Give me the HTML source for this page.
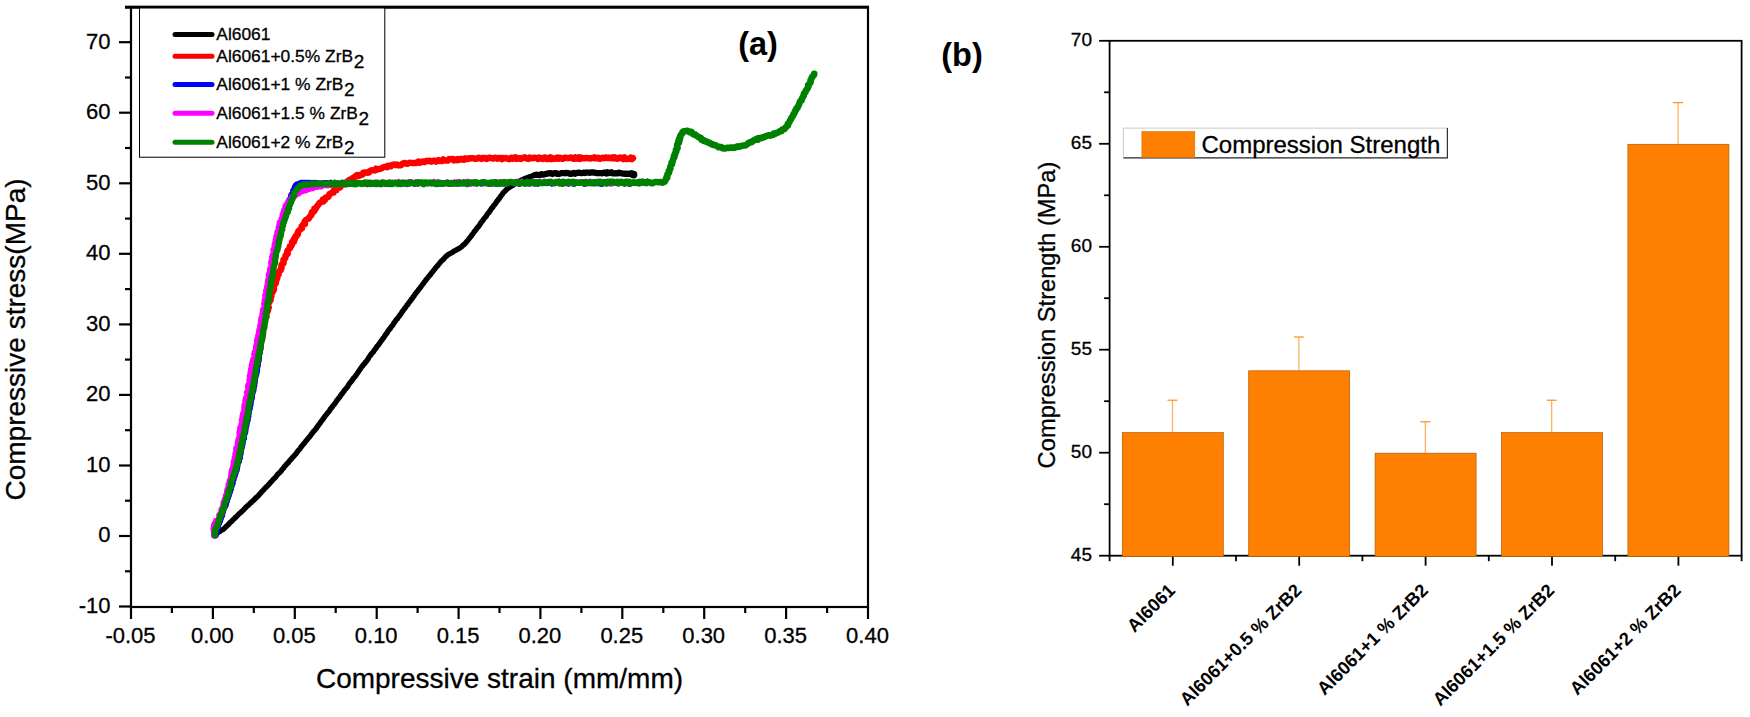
<!DOCTYPE html>
<html lang="en"><head><meta charset="utf-8"><title>Compressive stress-strain and compression strength</title>
<style>html,body{margin:0;padding:0;background:#fff;}body{width:1750px;height:717px;overflow:hidden;}svg{display:block;}text{font-family:"Liberation Sans", Arial, sans-serif;fill:#000;stroke:#000;stroke-width:0.3px;paint-order:stroke fill;}text.b,.b text{stroke:none;}</style></head><body>
<svg width="1750" height="717" viewBox="0 0 1750 717">
<rect x="0" y="0" width="1750" height="717" fill="#fff"/>
<g id="curves-a">
<polyline points="215.0,534.5 216.0,533.8 217.0,533.1 218.1,532.6 219.0,531.8 220.1,531.3 221.1,530.6 222.1,529.9 223.2,529.3 224.1,528.6 225.0,527.8 225.8,526.9 226.7,526.0 227.6,525.2 228.6,524.4 229.3,523.4 230.1,522.5 231.1,521.8 232.1,521.0 232.8,520.0 233.7,519.1 234.7,518.5 235.3,517.4 236.4,516.8 237.1,515.8 238.0,514.9 238.9,514.1 239.8,513.3 240.8,512.6 241.5,511.6 242.5,510.8 243.4,510.0 244.2,509.1 245.1,508.3 245.9,507.4 246.7,506.5 247.6,505.7 248.6,505.0 249.4,504.1 250.3,503.2 251.2,502.5 252.1,501.6 252.9,500.7 253.9,500.0 254.7,499.2 255.5,498.2 256.4,497.5 257.3,496.6 258.3,495.8 259.1,494.8 259.9,493.7 260.9,493.0 261.6,491.8 262.5,491.0 263.5,490.1 264.2,489.0 265.2,488.2 266.0,487.1 267.0,486.3 267.9,485.4 268.7,484.5 269.7,483.6 270.4,482.5 271.3,481.7 272.1,480.8 273.0,479.8 273.8,478.9 274.7,478.1 275.6,477.2 276.3,476.1 277.2,475.2 277.8,474.2 278.8,473.4 279.7,472.5 280.6,471.6 281.4,470.7 282.0,469.6 282.8,468.7 283.7,467.9 284.3,466.8 285.2,466.0 285.9,465.0 286.7,464.1 287.5,463.2 288.5,462.5 289.1,461.4 289.9,460.5 290.7,459.6 291.6,458.8 292.2,457.7 293.1,456.9 293.9,456.0 294.8,455.1 295.6,454.1 296.4,453.2 297.0,452.1 297.8,451.1 298.6,450.2 299.5,449.3 300.3,448.4 300.9,447.2 301.7,446.2 302.5,445.3 303.3,444.3 304.1,443.4 304.9,442.5 305.6,441.4 306.4,440.4 307.3,439.5 308.0,438.5 308.9,437.5 309.8,436.6 310.5,435.5 311.2,434.5 312.0,433.5 312.8,432.5 313.5,431.4 314.5,430.6 315.2,429.6 316.1,428.6 316.8,427.6 317.5,426.5 318.3,425.5 319.0,424.4 319.9,423.5 320.5,422.4 321.2,421.4 322.0,420.5 322.7,419.5 323.5,418.5 324.2,417.4 324.9,416.4 325.7,415.5 326.4,414.5 327.2,413.5 327.9,412.5 328.8,411.7 329.5,410.6 330.1,409.5 330.9,408.5 331.7,407.6 332.4,406.6 333.1,405.6 334.0,404.7 334.8,403.8 335.4,402.7 336.1,401.7 336.7,400.6 337.5,399.7 338.3,398.7 339.0,397.7 339.9,396.9 340.4,395.7 341.1,394.7 342.1,393.9 342.7,392.9 343.4,391.8 344.2,390.9 344.8,389.8 345.7,388.9 346.6,388.0 347.3,387.0 348.0,385.9 348.6,384.8 349.3,383.9 350.0,382.8 350.9,382.0 351.6,380.9 352.4,380.0 353.0,378.9 353.8,377.8 354.7,377.0 355.5,376.0 356.2,375.0 356.9,374.0 357.6,373.0 358.3,372.0 358.9,370.9 359.7,369.9 360.4,368.9 361.1,367.8 361.8,366.8 362.6,365.9 363.3,364.9 364.2,364.0 365.0,363.1 365.6,362.0 366.5,361.1 367.2,360.1 368.0,359.1 368.5,358.0 369.2,356.9 370.0,355.9 370.7,354.9 371.4,353.9 372.3,353.0 373.1,352.1 373.8,351.1 374.5,350.0 375.3,349.0 376.1,348.1 376.6,346.9 377.5,346.0 378.3,345.1 379.0,344.1 379.7,343.1 380.4,342.0 381.1,340.9 382.0,340.1 382.6,338.9 383.5,338.0 384.2,337.0 384.8,335.8 385.6,334.8 386.4,333.8 387.1,332.7 387.7,331.6 388.4,330.5 389.2,329.5 390.1,328.6 390.8,327.6 391.3,326.5 392.2,325.7 393.0,324.7 393.6,323.7 394.2,322.6 395.0,321.7 395.6,320.6 396.3,319.7 397.3,318.9 397.9,317.8 398.6,316.8 399.4,316.0 400.0,314.9 400.8,314.0 401.5,313.0 402.1,311.9 402.8,311.0 403.5,310.0 404.2,309.0 405.0,308.1 405.6,307.1 406.4,306.1 407.0,305.1 408.0,304.3 408.5,303.2 409.3,302.3 410.0,301.3 410.8,300.4 411.4,299.3 412.3,298.5 412.9,297.4 413.6,296.4 414.3,295.5 414.9,294.4 415.7,293.5 416.4,292.5 417.1,291.5 418.0,290.7 418.6,289.6 419.4,288.7 420.2,287.8 420.9,286.7 421.6,285.7 422.4,284.8 423.1,283.8 423.9,282.9 424.4,281.8 425.3,280.9 426.0,279.9 426.7,278.9 427.6,278.1 428.3,277.0 429.1,276.1 429.9,275.2 430.7,274.2 431.4,273.1 432.2,272.2 433.0,271.2 433.8,270.3 434.6,269.3 435.3,268.3 436.1,267.4 436.9,266.4 437.8,265.5 438.5,264.5 439.3,263.6 440.1,262.6 440.9,261.5 441.9,260.7 442.9,259.9 443.8,258.9 444.6,257.8 445.5,256.9 446.5,256.1 447.4,255.1 448.5,254.5 449.6,253.7 450.8,253.3 451.9,252.6 453.0,252.0 453.9,251.1 455.1,250.7 456.2,250.1 457.2,249.3 458.4,248.9 459.5,248.3 460.4,247.5 461.5,246.9 462.3,245.9 463.2,245.1 464.3,244.4 465.2,243.5 465.9,242.5 466.9,241.5 467.8,240.4 468.7,239.2 469.5,238.1 470.4,237.0 471.3,236.0 471.9,234.8 472.8,233.9 473.6,232.9 474.2,231.7 475.1,230.8 475.9,229.8 476.7,228.8 477.3,227.6 478.3,226.8 479.0,225.7 479.9,224.7 480.4,223.5 481.2,222.5 481.9,221.5 482.8,220.6 483.4,219.5 484.1,218.5 485.0,217.5 485.9,216.6 486.6,215.6 487.2,214.4 487.9,213.4 488.9,212.6 489.5,211.5 490.3,210.5 490.9,209.4 491.6,208.3 492.6,207.5 493.2,206.4 493.9,205.3 494.9,204.5 495.5,203.4 496.3,202.4 496.9,201.2 497.9,200.4 498.4,199.2 499.4,198.4 500.0,197.3 500.7,196.2 501.5,195.2 502.4,194.3 502.9,193.1 503.9,192.1 505.0,191.2 505.9,190.1 506.9,189.1 507.9,188.4 508.9,187.7 509.9,187.0 511.0,186.3 512.2,185.6 513.4,185.0 514.6,184.1 515.8,183.4 516.9,182.5 518.1,182.0 519.2,181.2 520.4,180.7 521.5,180.0 522.8,179.7 523.9,179.0 525.0,178.3 526.2,178.0 527.6,177.7 528.7,177.0 530.0,176.8 531.2,176.3 532.5,175.8 533.8,175.5 535.0,175.0" fill="none" stroke="#000" stroke-width="5.4" stroke-linejoin="round" stroke-linecap="round" />
<polyline points="535.0,175.0 536.2,174.7 537.5,174.8 538.8,174.9 540.1,175.2 541.2,174.2 542.5,174.7 543.8,174.4 545.0,174.2 546.2,173.8 547.5,173.7 548.7,173.2 550.0,173.3 551.2,173.1 552.5,174.0 553.7,173.3 555.0,173.1 556.2,173.0 557.5,174.0 558.8,174.0 560.0,173.6 561.2,173.1 562.5,173.0 563.7,173.1 565.0,173.3 566.2,172.8 567.5,173.2 568.7,173.0 570.0,173.9 571.3,173.9 572.5,173.3 573.7,172.9 575.0,173.9 576.2,172.9 577.5,173.0 578.7,172.5 580.0,173.0 581.2,173.1 582.5,173.1 583.7,172.7 585.0,173.1 586.2,172.4 587.5,172.7 588.7,172.5 590.0,172.9 591.2,172.4 592.5,172.3 593.7,172.7 595.0,172.6 596.3,173.1 597.5,173.0 598.8,173.3 600.0,173.1 601.3,173.2 602.5,173.4 603.7,172.7 605.0,172.6 606.3,173.5 607.5,172.3 608.8,173.1 610.0,173.0 611.3,172.2 612.5,173.4 613.7,173.5 615.0,173.2 616.2,173.3 617.5,173.5 618.8,172.6 620.0,173.2 621.2,173.2 622.5,173.7 623.7,173.7 625.0,173.8 626.2,173.5 627.5,174.0 628.7,173.7 630.0,173.8 631.3,173.2 632.5,173.6" fill="none" stroke="#000" stroke-width="6.2" stroke-linejoin="round" stroke-linecap="round" />
<circle cx="633.5" cy="174.6" r="3.9" fill="#000"/>
<polyline points="215.8,535.8 215.0,533.6 215.5,532.3 216.1,531.2 216.4,530.0 217.3,528.9 217.6,527.7 218.1,526.5 218.5,525.3 219.0,524.1 219.3,522.9 219.4,521.6 220.3,520.6 220.7,519.4 220.9,518.2 221.4,517.0 221.9,515.9 221.9,514.6 222.7,513.5 222.9,512.2 223.2,511.0 223.7,509.9 224.3,508.9 224.4,507.6 225.1,506.6 225.7,505.5 225.8,504.2 226.1,503.1 226.6,502.0 227.1,500.9 227.6,499.7 227.9,498.6 228.3,497.4 228.3,496.1 228.7,494.9 229.2,493.7 229.8,492.5 229.9,491.2 230.5,490.0 230.5,488.7 230.9,487.5 231.4,486.3 232.0,485.1 232.4,483.9 232.7,482.7 232.9,481.4 233.4,480.2 233.7,479.0 234.1,477.8 234.3,476.5 235.1,475.4 235.1,474.1 235.9,473.0 236.2,471.7 236.0,470.4 236.7,469.2 237.2,468.0 237.7,466.8 237.7,465.5 238.0,464.3 238.3,463.0 239.1,461.9 239.0,460.6 239.5,459.4 239.5,458.1 240.0,457.0 240.5,455.8 240.2,454.5 240.9,453.4 241.0,452.1 241.4,450.9 241.6,449.7 241.5,448.4 242.2,447.3 242.2,446.0 242.2,444.8 242.4,443.5 242.9,442.4 243.2,441.2 243.3,440.0 243.5,438.8 243.8,437.6 244.1,436.4 244.6,435.2 244.4,433.9 245.1,432.8 245.4,431.6 245.2,430.4 245.9,429.3 246.0,428.0 246.4,426.8 246.3,425.6 246.6,424.3 246.8,423.1 247.4,421.9 247.4,420.6 247.5,419.3 247.8,418.1 247.9,416.8 248.0,415.5 248.3,414.3 249.0,413.1 248.9,411.8 249.5,410.6 249.3,409.3 249.6,408.1 250.0,406.9 250.0,405.6 250.4,404.3 251.0,403.2 251.2,401.9 251.4,400.6 251.5,399.4 251.9,398.1 252.2,396.9 252.2,395.6 252.6,394.4 252.4,393.0 253.1,391.9 253.2,390.6 253.6,389.4 253.7,388.1 253.8,386.8 253.9,385.6 254.6,384.4 254.4,383.1 254.8,381.8 255.0,380.6 255.2,379.3 255.7,378.1 256.0,376.9 255.8,375.6 256.3,374.4 256.3,373.1 256.7,371.9 256.8,370.6 256.9,369.3 257.1,368.1 257.4,366.9 258.0,365.8 258.0,364.5 258.0,363.3 258.6,362.1 258.9,360.9 258.8,359.6 258.8,358.4 259.1,357.2 259.2,356.0 259.6,354.8 259.7,353.5 260.0,352.3 260.2,351.1 260.6,349.9 261.0,348.7 261.1,347.5 261.1,346.3 261.4,345.1 261.6,343.8 261.8,342.6 262.0,341.4 262.0,340.1 262.4,339.0 263.0,337.8 262.7,336.5 263.1,335.3 263.4,334.1 263.8,332.9 263.6,331.7 263.8,330.4 264.1,329.2 264.3,328.0 264.5,326.7 264.9,325.5 265.0,324.3 265.1,323.0 264.8,321.7 264.9,320.5 265.5,319.3 265.5,318.0" fill="none" stroke="#ff0000" stroke-width="5.2" stroke-linejoin="round" stroke-linecap="round" />
<polyline points="265.5,318.0 266.5,317.0 266.0,315.6 266.5,314.5 265.7,313.1 266.7,312.0 267.9,311.1 268.0,309.9 268.3,308.7 268.8,307.6 267.8,306.1 267.8,304.8 268.2,303.6 269.2,302.5 269.8,301.3 270.6,300.2 270.6,298.9 270.8,297.6 271.4,296.4 271.2,295.0 271.7,293.9 271.3,292.5 272.9,291.8 272.4,290.3 274.0,289.6 273.9,288.3 273.7,286.9 273.8,285.7 274.4,284.6 275.5,283.7 276.0,282.6 275.4,281.1 275.7,280.0 276.9,279.1 277.4,278.0 277.4,276.8 277.5,275.5 278.6,274.6 278.0,273.1 278.9,272.2 279.5,271.1 280.8,270.3 280.7,269.0 281.6,268.0 281.3,266.6 281.4,265.4 281.9,264.2 283.5,263.6 283.6,262.3 283.4,260.9 283.4,259.6 284.6,258.8 285.4,257.9 285.4,256.6 285.6,255.3 286.8,254.6 287.8,253.7 287.2,252.0 287.4,250.8 288.4,250.0 289.1,248.9 290.1,248.1 289.8,246.6 291.4,246.0 291.8,244.9 292.0,243.6 292.0,242.2 293.8,241.9 293.4,240.2 294.8,239.6 294.5,238.1 295.1,237.0 296.5,236.4 296.4,235.0 298.0,234.5 297.9,233.0 298.0,231.7 298.8,230.7 299.8,229.8 300.9,229.0 302.1,228.2 301.6,226.4 302.7,225.6 303.1,224.3 305.0,224.0 304.5,222.1 305.1,221.0 305.9,219.9 307.1,219.2 308.6,218.7 309.3,217.6 309.8,216.4 311.0,215.6 311.6,214.5 311.6,212.8 312.2,211.7 314.0,211.6 314.6,210.4 314.4,208.6 316.1,208.4 316.5,207.1 317.3,206.1 318.1,205.1 318.8,204.1 319.4,203.0 320.6,202.4 321.6,201.6 323.2,201.5 323.0,199.5 325.0,199.9 325.0,198.0 326.1,197.4 327.6,197.3 328.5,196.5 329.0,195.2 329.5,193.9 331.0,193.6 331.9,192.7 333.5,192.6 333.6,190.7 334.8,190.1 336.4,190.1 336.6,188.1 338.1,187.9 339.6,187.7 340.6,186.9 340.9,185.1 342.0,184.3 343.0,183.7 344.9,184.2 345.2,182.5 346.8,182.6 347.9,182.1 348.3,180.6 349.4,179.8 351.1,180.2 351.9,179.1 352.6,177.9 354.1,178.0 354.8,176.7 356.0,176.1 357.0,175.1 358.8,175.8 360.1,175.5 361.1,174.5 362.6,174.6 363.3,172.6 364.7,172.5 366.2,172.4 367.8,172.8 369.0,172.4 369.8,171.0 371.0,170.4 372.3,170.3 373.5,170.0 375.0,170.4 376.0,168.7 377.5,169.5 378.8,169.0 380.1,168.8 381.3,168.5 382.4,167.9 383.5,167.2 384.7,166.9 385.9,166.7 387.3,167.2 388.2,165.7 389.5,165.6 390.9,166.3 391.9,165.2 393.2,164.6 394.5,164.4 395.9,165.1 397.2,164.5 398.6,165.5 399.9,165.2 401.2,165.2 402.3,163.7 403.6,163.2 404.9,163.0 406.2,163.6 407.4,163.8 408.6,163.2 409.7,162.7 411.0,162.9 412.2,163.1 413.4,163.0 414.7,163.0 415.9,163.1 417.0,162.6 418.2,161.5 419.6,162.7 420.9,161.6 422.2,162.0 423.5,161.5 424.8,162.1 426.1,161.0 427.4,161.0 428.7,160.9 429.9,160.6 431.3,161.8 432.4,161.2 433.6,160.6 434.8,160.6 436.1,161.6 437.2,160.6 438.4,160.0 439.6,161.0 440.8,160.6 442.1,161.1 443.2,159.4 444.4,160.0 445.6,160.6 446.8,160.5 448.0,160.6 449.2,159.0 450.4,159.3 451.6,159.0 452.8,159.0 454.0,160.4 455.2,159.6 456.5,160.2 457.7,159.1 459.0,159.9 460.1,159.1 461.4,158.7 462.6,159.6 463.9,159.9 465.0,158.3 466.3,159.1 467.5,159.1 468.7,158.3 470.0,158.6 471.2,158.1 472.5,158.2 473.7,158.3 475.0,158.9 476.3,158.9 477.5,158.1 478.7,157.7 480.0,158.3 481.3,158.9 482.5,158.0 483.7,158.2 485.0,158.0 486.3,159.0 487.5,158.5 488.7,157.6 490.0,157.7 491.2,158.2 492.4,158.5 493.6,158.6 494.8,157.6 496.0,157.8 497.2,158.7 498.4,158.2 499.6,157.9 500.8,158.0 502.0,159.1 503.2,158.0 504.4,158.4 505.6,158.0 506.8,158.1 508.0,158.9 509.2,159.2 510.4,158.0 511.6,157.7 512.8,158.7 514.0,157.7 515.2,157.3 516.4,158.9 517.6,158.1 518.8,158.8 520.0,158.0 521.2,158.9 522.4,158.1 523.6,157.6 524.8,157.3 526.0,158.3 527.2,158.5 528.4,158.9 529.6,157.5 530.8,158.4 532.0,158.0 533.2,158.2 534.4,157.6 535.6,157.8 536.8,158.2 538.0,159.0 539.2,157.5 540.4,158.2 541.6,158.7 542.8,159.0 544.0,157.7 545.2,157.5 546.4,159.0 547.6,159.1 548.8,158.2 550.0,157.4 551.2,159.0 552.4,158.0 553.6,158.9 554.8,158.4 556.0,158.8 557.2,157.6 558.4,158.7 559.6,157.7 560.8,158.0 562.0,158.8 563.2,158.8 564.4,157.6 565.6,157.7 566.8,158.0 568.0,158.2 569.2,158.0 570.4,157.5 571.6,157.7 572.8,158.6 574.0,158.9 575.2,157.4 576.4,158.3 577.6,158.7 578.8,157.4 580.0,158.8 581.2,157.5 582.4,158.4 583.6,158.3 584.8,158.4 586.0,157.9 587.2,158.1 588.4,158.3 589.6,158.1 590.8,158.5 592.0,158.1 593.2,158.1 594.5,157.3 595.7,158.4 596.9,158.2 598.1,157.7 599.3,158.7 600.5,158.7 601.7,158.1 602.9,157.6 604.1,158.2 605.3,157.5 606.5,157.5 607.7,158.1 608.9,157.5 610.1,158.1 611.3,158.2 612.5,157.4 613.7,158.4 614.9,157.4 616.1,158.6 617.3,158.7 618.5,158.2 619.8,157.4 621.0,158.2 622.2,158.0 623.4,159.0 624.6,157.5 625.8,158.8 627.0,159.1 628.2,158.6 629.4,158.8 630.6,157.6 631.8,159.1 633.0,158.2" fill="none" stroke="#ff0000" stroke-width="6.4" stroke-linejoin="round" stroke-linecap="round" stroke-linecap="butt"/>
<polyline points="215.6,535.2 215.1,533.0 216.0,532.0 216.4,530.8 216.1,529.3 217.2,528.4 217.8,527.2 217.4,525.7 218.1,524.6 218.9,523.6 218.8,522.2 219.9,521.3 219.7,519.9 220.6,518.9 220.4,517.5 221.2,516.4 222.0,515.4 221.7,514.0 222.2,512.8 222.8,511.7 223.0,510.4 223.2,509.2 223.7,508.1 224.1,507.0 225.2,506.1 225.4,504.9 226.0,503.8 225.7,502.4 226.7,501.5 226.4,500.1 227.2,499.1 227.7,498.0 227.9,496.8 228.7,495.7 228.8,494.4 229.2,493.1 229.8,492.0 229.5,490.5 230.7,489.6 230.7,488.2 230.9,486.9 231.6,485.8 231.5,484.4 232.5,483.4 232.5,482.1 232.7,480.8 233.4,479.7 233.5,478.4 233.6,477.1 234.5,476.0 234.2,474.6 235.3,473.6 235.2,472.2 235.9,471.1 236.6,470.0 236.6,468.6 237.0,467.4 237.0,466.1 237.1,464.8 237.5,463.6 237.9,462.4 238.8,461.3 238.9,460.0 239.3,458.8 239.9,457.7 239.4,456.3 239.7,455.1 240.4,454.0 240.0,452.6 240.3,451.4 240.9,450.3 240.9,449.0 241.4,447.8 241.5,446.6 242.1,445.4 242.3,444.2 242.2,442.9 242.9,441.8 243.0,440.6 242.9,439.3 243.9,438.3 243.5,436.9 243.6,435.7 243.8,434.5 244.6,433.4 245.1,432.3 245.2,431.1 245.1,429.8 245.2,428.6 245.2,427.3 246.1,426.2 246.3,425.0 246.3,423.7 246.8,422.5 246.9,421.2 247.6,420.1 247.6,418.8 247.4,417.5 248.3,416.3 247.7,414.9 248.4,413.8 248.5,412.5 248.6,411.2 248.6,409.9 249.6,408.8 249.0,407.4 249.8,406.3 250.4,405.1 249.9,403.7 250.2,402.4 250.9,401.3 251.0,400.0 251.4,398.8 251.8,397.6 251.4,396.2 251.8,395.0 252.1,393.7 252.1,392.4 253.1,391.3 253.3,390.1 253.4,388.8 253.0,387.4 254.0,386.3 254.2,385.0 254.1,383.7 254.6,382.5 254.6,381.2 254.6,380.0 254.7,378.7 255.0,377.5 255.1,376.2 255.6,375.0 256.3,373.8 256.4,372.5 256.8,371.3 256.9,370.0 256.6,368.8 257.1,367.6 257.2,366.4 257.7,365.2 257.6,364.0 257.5,362.8 258.0,361.6 258.5,360.5 258.0,359.2 258.8,358.1 258.1,356.7 258.5,355.6 258.7,354.4 259.4,353.3 259.7,352.1 259.7,350.9 259.5,349.6 260.2,348.5 259.8,347.2 259.9,346.0 260.7,344.9 260.6,343.7 260.8,342.5 261.0,341.3 261.5,340.1 261.1,338.8 261.7,337.7 261.7,336.5 262.0,335.3 261.8,334.0 262.3,332.9 262.3,331.7 262.2,330.4 262.3,329.2 262.9,328.1 262.5,326.8 263.5,325.7 262.9,324.3 263.0,323.1 263.3,321.9 264.3,320.8 263.9,319.5 263.9,318.3 264.0,317.1 264.2,315.8 265.0,314.7 265.1,313.5 265.4,312.3 265.6,311.1 265.1,309.8 265.8,308.7 265.8,307.4 266.4,306.3 266.6,305.1 266.9,303.9 266.3,302.5 267.3,301.5 267.5,300.3 267.7,299.1 267.1,297.7 267.4,296.6 267.5,295.3 267.6,294.1 268.6,293.1 268.8,291.9 268.8,290.6 269.2,289.5 269.2,288.2 269.1,287.0 269.1,285.7 269.3,284.5 270.2,283.4 269.8,282.2 270.1,281.0 270.4,279.8 270.2,278.5 270.7,277.4 270.9,276.2 271.5,275.0 271.4,273.8 271.6,272.6 272.4,271.5 272.2,270.2 272.7,269.1 272.7,267.8 272.4,266.5 273.0,265.4 273.2,264.2 273.7,263.1 273.5,261.8 274.1,260.7 274.2,259.5 274.1,258.2 274.9,257.1 274.4,255.8 275.3,254.7 274.9,253.4 274.9,252.2 275.4,251.0 276.1,249.9 276.6,248.8 275.8,247.4 276.6,246.3 276.9,245.1 277.5,244.0 277.2,242.7 277.8,241.5 277.9,240.3 278.7,239.2 278.4,237.9 279.4,236.9 279.1,235.5 279.3,234.3 280.1,233.3 280.2,232.0 280.1,230.7 280.9,229.7 280.7,228.4 281.6,227.3 281.8,226.1 282.2,225.0 282.4,223.7 282.4,222.5 282.9,221.3 283.3,220.1 284.2,219.1 283.8,217.7 285.0,216.8 284.6,215.3 285.2,214.2 285.7,213.1 286.7,212.1 286.7,210.8 287.0,209.6 287.9,208.6 287.7,207.2 288.3,206.2 288.8,205.0 287.5,205.7 288.2,204.9 288.5,203.8 288.7,202.5 289.1,201.3 289.4,200.1 290.5,199.2 290.8,198.0 291.3,196.9 291.2,195.5 291.9,194.5 292.8,193.4 293.1,192.1 293.2,190.8 294.0,189.7 294.8,188.7 294.9,187.2 295.6,186.0 296.4,184.9 298.1,184.4 299.6,183.7 300.9,183.0 302.2,183.0 303.6,183.0 305.0,183.0 306.2,183.2 307.5,182.9 308.8,183.1 310.0,183.0 311.2,183.8 312.5,183.5 313.8,182.9 315.0,183.8 316.3,183.0 317.5,183.3 318.7,183.9 320.0,183.7 321.2,183.7 322.5,183.4 323.8,183.2 325.0,183.7 326.3,183.1 327.5,183.3 328.8,183.5 330.0,183.6" fill="none" stroke="#0000ff" stroke-width="6.4" stroke-linejoin="round" stroke-linecap="round" />
<polyline points="330.0,183.4 330.9,181.8 331.8,183.1 332.7,184.4 333.6,184.1 334.5,183.4 335.4,183.8 336.3,183.3 337.2,182.2 338.1,183.7 339.1,183.1 340.0,184.2 340.9,184.8 341.8,183.2 342.7,183.6 343.6,184.2 344.5,183.1 345.4,182.5 346.3,184.1 347.2,184.7 348.1,184.3 349.0,184.1 349.9,184.6 350.8,184.0 351.7,183.9 352.6,183.2 353.5,182.7 354.4,183.8 355.3,182.0 356.2,183.1 357.2,184.3 358.1,184.1 359.0,183.8 359.9,182.5 360.8,183.1 361.7,183.2 362.6,183.8 363.5,183.1 364.4,184.0 365.3,184.8 366.2,182.3 367.1,183.9 368.0,184.3 368.9,183.0 369.8,183.3 370.7,185.0 371.6,181.8 372.5,183.5 373.4,182.2 374.4,184.3 375.3,184.9 376.2,183.4 377.1,182.0 378.0,183.6 378.9,183.5 379.8,184.1 380.7,183.4 381.6,183.8 382.5,184.5 383.4,183.4 384.3,183.1 385.2,184.9 386.1,182.4 387.0,184.0 387.9,183.0 388.8,184.2 389.7,182.1 390.6,185.0 391.5,182.9 392.5,181.8 393.4,182.6 394.3,183.0 395.2,181.7 396.1,183.1 397.0,183.1 397.9,184.0 398.8,182.8 399.7,182.5 400.6,182.4 401.5,184.2 402.4,184.8 403.3,183.4 404.2,182.4 405.1,184.4 406.0,183.0 406.9,182.4 407.8,182.1 408.7,184.3 409.7,184.4 410.6,183.8 411.5,183.2 412.4,183.5 413.3,182.4 414.2,184.9 415.1,182.8 416.0,183.8 416.9,184.4 417.8,184.4 418.7,183.2 419.6,182.6 420.5,183.5 421.4,182.1 422.3,184.5 423.2,182.8 424.1,184.5 425.0,182.5 425.9,182.9 426.8,182.5 427.8,183.1 428.7,182.3 429.6,181.6 430.5,184.1 431.4,182.6 432.3,182.5 433.2,182.6 434.1,183.2 435.0,183.1 435.9,183.8 436.8,183.9 437.7,182.8 438.6,184.8 439.5,184.5 440.4,181.8 441.3,184.4 442.2,184.7 443.1,184.3 444.0,182.1 444.9,184.4 445.9,183.8 446.8,181.7 447.7,181.6 448.6,184.8 449.5,183.8 450.4,182.5 451.3,181.9 452.2,182.1 453.1,182.4 454.0,184.2 454.9,182.8 455.8,182.1 456.7,184.7 457.6,184.3 458.5,182.2 459.4,184.6 460.3,183.7 461.2,184.2 462.2,183.9 463.1,184.6 464.0,184.3 464.9,184.4 465.8,182.3 466.7,183.9 467.6,183.4 468.5,184.1 469.4,183.1 470.3,184.6 471.2,183.5 472.1,182.5 473.0,182.4 473.9,182.1 474.8,183.3 475.7,181.8 476.6,183.2 477.6,182.1 478.5,183.2 479.4,183.3 480.3,183.4 481.2,184.5 482.1,181.6 483.0,184.4 483.9,183.2 484.8,183.5 485.7,183.8 486.6,184.4 487.5,182.8 488.4,183.0 489.3,184.8 490.2,181.8 491.1,183.7 492.1,183.7 493.0,181.7 493.9,183.6 494.8,183.9 495.7,184.7 496.6,182.7 497.5,184.9 498.4,183.3 499.3,183.2 500.2,184.6 501.1,181.7 502.0,184.0 502.9,183.7 503.8,182.7 504.7,184.5 505.6,182.8 506.5,183.2 507.5,183.3 508.4,184.2 509.3,182.3 510.2,183.0 511.1,183.0 512.0,183.4 512.9,184.4 513.8,182.5 514.7,184.4 515.6,182.9 516.5,183.3 517.4,182.5 518.3,183.3 519.2,184.9 520.1,183.8 521.0,184.2 521.9,182.7 522.9,182.6 523.8,182.6 524.7,183.5 525.6,183.7 526.5,184.2 527.4,181.7 528.3,184.0 529.2,184.5 530.1,183.4 531.0,181.7 531.9,182.5 532.8,181.5 533.7,182.2 534.6,184.7 535.5,183.6 536.4,183.8 537.4,184.2 538.3,184.6 539.2,183.6 540.1,183.6 541.0,183.6 541.9,183.9 542.8,183.5 543.7,183.8 544.6,182.2 545.5,183.8 546.4,183.1 547.3,184.1 548.2,181.9 549.1,182.1 550.0,181.6 550.9,184.1 551.8,184.6 552.8,183.7 553.7,182.8 554.6,184.3 555.5,184.2 556.4,183.4 557.3,182.4 558.2,182.5 559.1,182.9 560.0,182.6 560.9,183.0 561.8,183.7 562.7,184.7 563.6,181.7 564.5,183.4 565.4,181.6 566.3,181.9 567.2,184.3 568.1,183.5 569.0,184.6 569.9,183.0 570.8,181.5 571.7,182.8 572.6,183.5 573.5,184.7 574.4,184.8 575.3,183.1 576.2,182.9 577.1,181.8 578.0,183.7 578.9,182.2 579.8,182.0 580.7,181.6 581.6,181.5 582.5,183.8 583.4,181.9 584.3,184.8 585.2,181.8 586.1,184.5 587.0,181.9 587.9,181.6 588.8,183.9 589.7,182.3 590.6,184.0 591.5,182.1 592.4,181.7 593.3,184.1 594.2,183.9 595.1,184.4 596.0,184.0 597.0,181.8 597.9,183.6 598.8,183.9 599.7,183.1 600.6,184.7 601.5,182.4 602.4,184.8 603.3,183.9 604.2,181.5 605.1,181.6 606.0,183.7 606.9,184.3 607.8,181.8 608.7,182.6 609.6,184.0 610.5,182.1 611.4,184.4 612.3,183.2 613.2,181.7 614.1,182.7 615.0,183.5 615.9,183.0 616.8,183.8 617.7,182.0 618.6,184.2 619.5,182.7 620.4,183.7 621.3,183.6 622.2,182.9 623.1,182.8 624.0,184.2 624.9,184.7 625.8,184.2 626.7,183.4 627.6,182.5 628.5,181.7 629.4,184.8 630.3,183.9 631.2,184.3 632.1,182.6 633.0,183.2" fill="none" stroke="#0000ff" stroke-width="4.2" stroke-linejoin="round" stroke-linecap="round" />
<polyline points="214.2,535.6 214.1,534.1 214.4,532.5 214.0,531.0 213.8,529.8 213.6,528.6 213.9,527.4 214.5,526.2 214.1,525.0 214.9,524.0 215.3,522.8 216.1,521.8 216.2,520.9 217.1,521.4 217.5,521.9 217.7,521.2 218.3,520.1 218.9,518.9 219.5,517.8 220.0,516.6 219.4,515.1 220.7,514.2 221.1,513.0 221.5,511.8 221.6,510.5 221.6,509.3 222.7,508.3 223.0,507.2 223.2,506.0 223.8,504.9 223.6,503.6 223.7,502.4 224.6,501.4 225.2,500.3 224.9,499.0 225.9,498.0 226.5,496.9 226.0,495.5 226.8,494.4 227.2,493.2 227.2,491.9 227.3,490.6 227.6,489.3 228.5,488.3 228.9,487.0 228.8,485.7 228.7,484.4 229.8,483.4 230.1,482.1 229.7,480.8 230.4,479.6 231.1,478.5 231.3,477.3 231.2,476.0 231.4,474.7 231.8,473.5 231.6,472.2 231.9,471.0 232.2,469.8 233.1,468.7 233.0,467.3 233.5,466.2 233.6,464.9 234.0,463.7 233.8,462.4 234.0,461.1 235.4,460.1 234.9,458.8 234.8,457.5 235.6,456.4 236.1,455.2 235.5,453.9 236.3,452.7 236.2,451.5 236.7,450.3 236.3,449.0 236.5,447.8 237.9,446.8 238.0,445.5 237.8,444.2 238.1,443.0 238.0,441.7 238.8,440.7 238.6,439.4 239.5,438.3 239.5,437.1 239.8,435.9 240.2,434.7 239.6,433.3 239.6,432.1 240.0,430.9 240.2,429.7 240.3,428.5 240.5,427.3 241.3,426.2 241.9,425.1 241.7,423.7 242.5,422.6 242.6,421.3 241.9,419.9 242.7,418.8 242.7,417.5 242.6,416.2 243.8,415.1 243.2,413.7 243.8,412.5 244.1,411.3 244.7,410.1 244.5,408.8 244.4,407.5 244.7,406.2 244.6,404.9 245.8,403.9 246.1,402.6 245.4,401.2 245.5,399.9 246.0,398.7 246.3,397.5 247.2,396.3 247.5,395.1 247.6,393.8 247.0,392.4 248.1,391.3 248.2,390.0 248.4,388.8 249.0,387.6 248.1,386.2 248.5,384.9 249.4,383.8 249.8,382.6 249.7,381.3 249.5,380.0 250.1,378.8 250.5,377.6 249.9,376.2 250.4,375.0 250.6,373.7 250.6,372.4 251.3,371.2 251.1,369.9 251.4,368.7 251.6,367.5 252.5,366.4 251.9,365.1 253.0,364.1 252.6,362.7 252.7,361.5 254.0,360.5 253.4,359.1 254.5,358.1 254.7,356.9 255.0,355.7 254.3,354.3 254.9,353.2 254.8,351.9 256.0,350.9 256.2,349.7 256.2,348.5 256.2,347.2 256.3,346.0 257.1,344.9 257.0,343.6 257.4,342.5 257.1,341.1 257.4,340.0 257.5,338.7 258.5,337.7 258.6,336.5 258.3,335.2 259.4,334.1 259.0,332.8 259.4,331.6 259.3,330.4 259.7,329.2 260.6,328.1 260.3,326.8 260.3,325.5 260.9,324.4 260.9,323.1 261.8,322.1 261.1,320.7 262.4,319.7 261.5,318.2 262.7,317.2 262.7,315.9 262.4,314.6 262.9,313.5 262.9,312.2 263.1,311.0 263.2,309.8 263.7,308.6 264.6,307.5 264.9,306.3 265.0,305.1 264.2,303.7 264.7,302.6 265.6,301.5 264.8,300.1 265.8,299.0 265.5,297.8 266.5,296.7 265.5,295.3 266.7,294.3 266.3,293.0 266.3,291.7 266.3,290.5 267.5,289.5 267.3,288.2 267.1,286.9 267.6,285.8 268.4,284.7 267.8,283.3 268.4,282.2 268.1,280.9 268.3,279.7 269.2,278.7 269.4,277.4 268.9,276.1 269.0,274.9 269.2,273.7 270.1,272.6 270.1,271.4 270.1,270.2 270.2,269.0 270.9,267.9 271.3,266.7 271.6,265.5 271.6,264.3 271.3,263.0 271.4,261.8 272.4,260.7 272.2,259.4 272.8,258.3 272.2,257.0 273.3,255.9 273.0,254.6 273.8,253.6 274.1,252.4 273.8,251.1 273.5,249.8 274.8,248.8 274.5,247.5 275.2,246.4 274.8,245.1 274.9,243.9 275.9,242.8 275.7,241.5 275.7,240.3 276.2,239.2 276.7,238.1 276.3,236.7 277.2,235.7 277.3,234.5 277.7,233.3 277.5,232.0 278.4,231.0 278.8,229.8 279.1,228.6 278.8,227.3 279.5,226.2 279.4,225.0 280.2,224.0 279.8,222.5 281.2,221.7 281.7,220.6 281.6,219.3 282.0,218.1 282.4,217.0 282.8,215.8 282.7,214.5 284.1,213.7 283.7,212.3 284.1,211.1 284.4,209.9 285.0,208.8 286.0,207.9 285.6,206.5 286.1,205.3 287.4,204.6 287.6,203.3 288.1,202.2 289.3,201.6 290.0,200.6 290.6,199.5 291.5,198.6 291.7,197.2 293.4,197.1 294.4,196.2 295.1,194.8 296.3,194.1 297.7,193.7 298.9,193.0 299.9,192.0 301.0,191.3 302.2,191.1 303.3,190.3 304.6,190.4 305.9,190.2 306.7,188.9 308.0,188.9 309.3,188.8 310.4,187.8 311.8,188.2 313.1,188.0 314.2,187.0 315.5,186.8 316.9,186.9 318.0,186.2 319.2,185.9 320.5,186.4 321.6,186.0 322.8,185.3 324.0,185.0 325.2,184.9 326.4,184.9 327.7,185.3 328.9,184.9 330.1,184.9 331.3,184.7 332.5,184.6 333.7,183.6 335.0,184.0 336.3,184.4 337.5,184.3 338.7,183.4 340.0,183.5 341.3,183.7 342.5,183.2 343.8,183.3 345.0,183.2" fill="none" stroke="#ff00ff" stroke-width="6.4" stroke-linejoin="round" stroke-linecap="round" />
<polyline points="345.0,183.2 345.9,181.6 346.8,182.9 347.7,183.2 348.6,181.4 349.5,181.8 350.4,185.0 351.3,184.2 352.2,184.8 353.1,183.7 354.0,184.3 354.9,184.6 355.8,184.6 356.7,181.4 357.6,183.7 358.5,182.2 359.4,183.8 360.3,182.3 361.2,183.3 362.1,184.7 363.0,183.6 363.9,182.1 364.8,183.2 365.7,182.8 366.6,184.8 367.5,182.3 368.4,182.3 369.3,183.6 370.2,181.6 371.1,183.4 372.0,184.8 372.9,183.1 373.8,182.2 374.7,182.9 375.6,183.2 376.5,181.7 377.4,181.6 378.3,181.6 379.2,182.2 380.1,182.7 381.0,182.2 381.9,182.0 382.8,181.4 383.7,183.2 384.6,184.3 385.5,183.4 386.4,183.2 387.3,183.5 388.2,181.8 389.1,183.8 390.0,182.8 390.9,183.1 391.8,183.4 392.7,182.8 393.6,182.2 394.5,181.9 395.4,181.9 396.3,183.0 397.2,182.5 398.2,183.2 399.0,181.0 399.9,182.3 400.9,184.3 401.7,181.9 402.7,183.1 403.6,182.8 404.5,182.1 405.4,184.7 406.3,182.1 407.2,183.9 408.1,181.6 408.9,181.2 409.9,184.3 410.8,182.6 411.7,181.2 412.6,182.4 413.5,182.6 414.4,183.7 415.3,181.3 416.2,181.8 417.1,184.5 418.0,183.7 418.9,181.5 419.8,182.2 420.7,182.2 421.6,183.4 422.5,183.2 423.4,184.1 424.3,184.0 425.2,182.8 426.1,183.7 427.0,183.7 427.9,183.7 428.8,182.6 429.7,183.8 430.6,183.5 431.5,184.3 432.4,181.3 433.3,184.1 434.2,180.8 435.1,183.7 436.0,183.0 436.9,182.7 437.8,184.4 438.7,183.0 439.6,182.4 440.5,183.8 441.4,184.1 442.3,183.1 443.2,182.2 444.1,182.5 445.0,182.5 445.9,183.5 446.8,181.9 447.7,182.2 448.6,182.8 449.5,182.2 450.4,181.9 451.3,183.7 452.2,183.9 453.1,182.6 454.0,182.4 454.9,181.4 455.8,181.9 456.7,181.2 457.6,182.9 458.5,182.9 459.4,181.0 460.3,184.2 461.2,181.9 462.2,183.9 463.1,183.9 464.0,184.3 464.9,181.5 465.8,182.3 466.7,184.1 467.6,180.7 468.5,180.9 469.4,182.8 470.3,182.6 471.2,184.2 472.1,183.6 473.0,182.7 473.9,184.5 474.8,182.6 475.7,182.6 476.7,183.3 477.6,182.1 478.5,182.0 479.4,182.9 480.3,182.0 481.2,184.3 482.1,183.2 483.0,182.6 483.9,181.0 484.8,182.1 485.7,182.2 486.6,182.8 487.5,182.8 488.4,184.0 489.3,184.3 490.2,182.5 491.1,182.3 492.1,183.0 493.0,184.4 493.9,181.9 494.8,182.6 495.7,183.7 496.6,181.3 497.5,181.8 498.4,184.3 499.3,183.8 500.2,182.6 501.1,181.0 502.0,184.0 502.9,183.2 503.8,183.7 504.7,184.4 505.6,184.0 506.5,182.2 507.5,181.2 508.4,181.7 509.3,182.5 510.2,182.5 511.1,181.3 512.0,181.3 512.9,183.0 513.8,182.9 514.7,181.9 515.6,184.4 516.5,183.0 517.4,180.7 518.3,182.1 519.2,183.6 520.1,181.7 521.0,183.2 521.9,180.6 522.9,181.7 523.8,183.8 524.7,182.8 525.6,183.1 526.5,181.3 527.4,182.5 528.3,182.7 529.2,181.6 530.1,183.0 531.0,182.6 531.9,184.3 532.8,182.7 533.7,182.1 534.6,181.0 535.5,181.1 536.4,183.4 537.3,180.9 538.3,180.9 539.2,181.2 540.1,182.5 541.0,183.7 541.9,182.9 542.8,183.6 543.7,180.8 544.6,180.6 545.5,183.5 546.4,181.8 547.3,183.2 548.2,181.9 549.1,181.2 550.0,181.5 550.9,180.9 551.8,184.0 552.8,182.7 553.7,181.8 554.6,182.2 555.5,182.0 556.4,180.7 557.3,183.9 558.2,182.7 559.1,184.1 560.0,182.2 560.9,182.9 561.8,181.4 562.7,180.7 563.6,184.0 564.5,183.7 565.4,181.7 566.3,183.9 567.2,183.6 568.2,181.7 569.1,182.8 570.0,184.1 570.9,182.4 571.8,184.1 572.7,181.4 573.6,182.0 574.5,183.2 575.4,181.3 576.3,181.7 577.2,183.8 578.1,182.3 579.0,183.5 579.9,181.4 580.8,181.2 581.8,181.9 582.7,181.2 583.6,184.2 584.5,181.6 585.4,182.6 586.3,180.9 587.2,182.5 588.1,182.0 589.0,182.0 589.9,180.7 590.8,181.0 591.7,183.6 592.6,181.8 593.5,181.4 594.4,181.2 595.3,181.6 596.2,181.4 597.2,180.6 598.1,183.0 599.0,181.8 599.9,181.1 600.8,183.2 601.7,180.9 602.6,181.5 603.5,183.7 604.4,181.0 605.3,182.2 606.2,183.7 607.1,183.6 608.0,181.1 608.9,181.8 609.8,183.2 610.8,181.9 611.7,184.1 612.6,181.3 613.5,184.1 614.4,182.4 615.3,181.4 616.2,182.2 617.1,181.0 618.0,183.2 618.9,181.5 619.8,183.9 620.7,182.7 621.6,181.9 622.5,181.4 623.4,182.8 624.3,181.3 625.2,183.8 626.2,181.0 627.1,182.4 628.0,182.6 628.9,181.5 629.8,183.4 630.7,182.0 631.6,183.0 632.5,182.4" fill="none" stroke="#ff00ff" stroke-width="4.2" stroke-linejoin="round" stroke-linecap="round" />
<polyline points="214.9,535.2 214.5,533.0 214.7,531.7 215.2,530.6 215.4,529.3 215.9,528.1 217.0,527.2 216.9,525.8 217.7,524.7 217.6,523.4 218.5,522.3 218.7,521.1 219.2,520.0 219.4,518.7 219.6,517.4 220.3,516.3 220.6,515.1 220.9,513.9 221.9,512.9 221.9,511.6 222.4,510.5 223.3,509.5 223.6,508.3 224.1,507.2 224.4,506.1 224.2,504.7 224.7,503.6 224.9,502.4 225.9,501.4 226.3,500.3 226.4,499.0 226.8,497.9 227.5,496.8 227.9,495.6 227.8,494.3 228.7,493.2 228.6,491.8 229.3,490.7 229.2,489.3 229.5,488.1 230.7,487.1 230.9,485.8 231.2,484.6 230.9,483.1 231.3,481.9 231.8,480.7 232.2,479.5 232.7,478.3 233.1,477.1 233.1,475.8 233.8,474.7 234.5,473.6 234.4,472.2 235.4,471.2 235.5,469.9 236.0,468.7 235.9,467.3 236.4,466.1 237.0,465.0 237.1,463.6 237.1,462.3 238.3,461.3 238.6,460.1 238.3,458.7 238.4,457.5 239.4,456.4 239.4,455.2 239.1,453.8 239.5,452.7 239.7,451.4 240.6,450.3 240.3,449.0 241.2,447.9 241.3,446.7 240.9,445.3 241.7,444.3 241.7,443.0 242.3,441.8 242.6,440.7 242.3,439.4 242.4,438.1 243.5,437.1 243.2,435.8 243.9,434.7 244.0,433.4 244.3,432.2 244.6,431.1 244.6,429.8 244.7,428.6 244.6,427.3 245.4,426.2 245.4,425.0 245.7,423.8 246.4,422.6 245.8,421.2 246.7,420.0 246.2,418.7 247.1,417.5 247.5,416.3 247.2,415.0 247.7,413.8 248.3,412.6 248.2,411.3 248.4,410.0 248.3,408.7 248.4,407.4 248.9,406.2 249.2,405.0 249.3,403.7 249.6,402.5 249.7,401.2 250.5,400.0 250.7,398.8 250.5,397.4 250.8,396.2 251.3,395.0 251.5,393.7 252.2,392.6 251.9,391.2 252.1,390.0 252.9,388.8 252.4,387.4 253.1,386.3 253.1,385.0 253.8,383.8 253.7,382.5 254.2,381.3 253.8,379.9 254.5,378.8 254.7,377.5 254.8,376.2 255.3,375.0 255.6,373.8 255.2,372.4 255.6,371.2 255.9,370.0 255.9,368.7 256.0,367.5 256.5,366.4 256.6,365.1 257.3,364.0 257.3,362.8 257.2,361.5 257.7,360.4 258.0,359.2 258.1,358.0 258.2,356.8 258.3,355.5 258.5,354.3 259.7,353.3 259.7,352.1 259.2,350.7 260.1,349.7 260.6,348.5 260.4,347.2 260.2,346.0 260.8,344.8 261.0,343.6 260.9,342.4 261.5,341.2 261.2,339.9 262.3,338.9 262.3,337.7 262.5,336.5 263.0,335.3 263.0,334.1 262.8,332.8 263.0,331.6 263.2,330.4 263.3,329.2 264.2,328.1 264.5,326.9 264.1,325.6 264.2,324.4 264.8,323.2 265.2,322.0 265.5,320.8 264.9,319.5 265.7,318.4 266.0,317.2 266.1,315.9 265.8,314.7 265.9,313.4 266.7,312.3 266.4,311.0 266.6,309.8 267.0,308.6 267.0,307.4 267.6,306.3 267.2,305.0 267.2,303.7 268.0,302.6 268.2,301.4 268.6,300.3 268.7,299.0 269.1,297.9 269.3,296.7 269.1,295.4 269.3,294.2 269.2,292.9 269.5,291.8 270.0,290.6 269.7,289.3 270.5,288.2 270.2,286.9 270.6,285.8 271.4,284.7 270.7,283.3 270.8,282.1 271.4,281.0 271.4,279.7 272.1,278.6 271.6,277.3 272.6,276.3 272.9,275.1 273.0,273.9 272.9,272.6 272.9,271.4 273.5,270.2 273.6,269.0 273.7,267.8 273.9,266.6 274.2,265.4 274.6,264.3 275.0,263.1 275.3,261.9 274.8,260.6 275.1,259.4 275.5,258.3 275.8,257.1 275.8,255.8 275.9,254.6 276.0,253.4 276.5,252.3 276.8,251.1 277.5,250.0 277.7,248.8 277.9,247.6 278.3,246.4 278.5,245.2 278.5,244.0 279.0,242.8 278.6,241.4 279.5,240.4 279.7,239.2 279.7,237.9 280.2,236.8 280.9,235.7 280.8,234.4 281.2,233.3 281.2,232.0 281.5,230.8 282.3,229.7 281.8,228.3 282.3,227.2 283.0,226.1 283.1,224.9 283.0,223.6 283.9,222.5 284.0,221.3 284.7,220.2 284.9,219.0 285.4,217.8 285.9,216.7 286.2,215.5 286.3,214.2 286.8,213.1 287.9,212.1 288.0,210.8 288.0,209.5 289.1,208.6 288.9,207.3 289.2,206.0 290.0,205.0 290.2,203.8 290.9,202.7 291.4,201.6 291.6,200.3 292.4,199.3 292.4,198.0 293.2,197.0 293.7,195.9 293.7,194.5 294.5,193.5 294.6,192.2 295.4,191.2 296.6,190.2 297.2,188.8 298.2,187.7 299.4,186.8 300.3,185.3 301.8,185.7 302.9,185.1 303.9,184.2 305.2,184.8 306.4,184.3 307.6,184.0 308.8,184.7 310.0,184.2 311.3,184.3 312.5,183.7 313.8,184.3 315.0,183.5 316.2,183.7 317.5,183.8 318.7,183.4 320.0,183.9 321.2,183.5 322.5,183.6 323.8,184.0 325.0,183.7 326.3,184.1 327.5,183.8 328.8,184.0 330.0,183.6" fill="none" stroke="#008000" stroke-width="6.2" stroke-linejoin="round" stroke-linecap="round" />
<polyline points="330.0,183.6 331.2,183.7 332.4,184.4 333.7,184.3 334.9,182.9 336.1,184.0 337.3,183.3 338.5,184.1 339.8,183.9 341.0,184.2 342.2,182.8 343.4,183.3 344.6,184.0 345.9,184.4 347.1,184.0 348.3,182.7 349.5,183.7 350.7,182.8 352.0,183.6 353.2,184.1 354.4,182.8 355.6,184.3 356.8,183.8 358.0,183.0 359.3,182.9 360.5,183.4 361.7,184.1 362.9,183.6 364.1,182.7 365.4,182.5 366.6,182.7 367.8,184.0 369.0,182.8 370.2,183.5 371.5,183.0 372.7,183.8 373.9,183.2 375.1,182.7 376.3,184.1 377.6,183.5 378.8,183.8 380.0,184.0 381.2,184.2 382.4,182.5 383.6,183.1 384.8,182.7 386.1,183.4 387.3,184.1 388.5,183.9 389.7,182.5 390.9,182.8 392.1,184.0 393.3,183.7 394.6,183.1 395.8,183.3 397.0,182.7 398.2,184.0 399.4,183.1 400.6,184.0 401.8,183.5 403.0,182.5 404.3,183.0 405.5,182.8 406.7,184.0 407.9,183.5 409.1,182.4 410.3,182.6 411.5,183.0 412.8,183.2 414.0,183.4 415.2,183.0 416.4,183.0 417.6,182.3 418.8,183.4 420.0,182.9 421.2,182.3 422.5,183.2 423.7,184.1 424.9,182.4 426.1,182.5 427.3,183.5 428.5,182.8 429.7,182.8 431.0,183.2 432.2,182.7 433.4,183.3 434.6,183.2 435.8,184.0 437.0,184.1 438.2,182.3 439.4,183.3 440.7,183.7 441.9,183.9 443.1,183.7 444.3,183.4 445.5,183.4 446.7,182.9 447.9,182.7 449.1,183.7 450.4,183.8 451.6,183.9 452.8,183.4 454.0,182.7 455.2,183.6 456.4,183.5 457.6,183.1 458.8,183.3 460.0,182.8 461.2,183.2 462.4,182.9 463.6,182.2 464.8,182.7 466.0,182.7 467.2,184.0 468.4,183.0 469.6,182.8 470.8,182.5 472.0,182.5 473.2,182.7 474.4,182.3 475.6,182.1 476.8,183.7 478.0,182.9 479.2,182.9 480.4,183.1 481.6,182.6 482.8,182.3 484.0,182.1 485.2,182.6 486.4,182.6 487.6,183.4 488.8,183.0 490.0,183.8 491.2,182.6 492.4,183.7 493.6,183.1 494.8,182.1 496.0,182.3 497.2,183.1 498.4,183.8 499.6,182.6 500.8,183.4 502.0,182.7 503.2,183.6 504.4,182.0 505.6,182.8 506.8,183.6 508.0,182.4 509.2,182.4 510.4,181.9 511.6,182.2 512.8,182.4 514.0,183.2 515.2,182.3 516.4,182.6 517.6,182.2 518.8,183.0 520.0,183.5 521.2,183.1 522.4,182.2 523.6,183.2 524.9,183.7 526.1,183.0 527.3,182.0 528.5,183.4 529.7,183.5 530.9,182.5 532.1,182.1 533.3,182.2 534.5,182.8 535.8,183.5 537.0,183.0 538.2,183.5 539.4,182.2 540.6,182.4 541.8,183.2 543.0,183.0 544.2,182.5 545.5,183.0 546.7,182.4 547.9,181.9 549.1,182.5 550.3,181.8 551.5,182.9 552.7,182.4 553.9,182.7 555.2,182.9 556.4,182.2 557.6,182.6 558.8,181.7 560.0,183.5 561.2,182.8 562.4,183.6 563.6,181.8 564.8,182.8 566.1,183.1 567.3,182.3 568.5,181.8 569.7,182.0 570.9,181.9 572.1,183.1 573.3,181.8 574.5,183.2 575.8,182.4 577.0,182.7 578.2,182.7 579.4,182.7 580.6,182.9 581.8,182.8 583.0,182.2 584.2,183.0 585.5,182.1 586.7,183.0 587.9,183.0 589.1,183.1 590.3,182.2 591.5,183.0 592.7,183.4 593.9,182.4 595.1,182.1 596.4,182.6 597.6,183.3 598.8,181.8 600.0,181.6 601.2,182.5 602.4,182.8 603.6,183.0 604.8,182.2 606.1,183.4 607.3,182.0 608.5,183.0 609.7,181.7 610.9,181.6 612.1,181.8 613.3,181.7 614.5,182.5 615.8,182.6 617.0,181.9 618.2,183.3 619.4,182.2 620.6,181.8 621.8,181.9 623.0,183.0 624.2,183.3 625.5,181.9 626.7,181.6 627.9,183.0 629.1,182.0 630.3,183.4 631.5,182.5 632.7,182.8 633.9,182.2 635.2,183.1 636.4,182.4 637.6,182.2 638.8,183.3 640.0,181.8 641.2,182.9 642.5,181.7 643.8,182.8 645.0,182.3 646.2,183.2 647.5,181.7 648.8,182.6 650.0,182.3 651.2,183.3 652.5,183.3 653.8,182.7 655.0,182.0 656.2,182.0 657.5,182.0 658.8,182.4 660.0,182.0 661.2,181.9 662.5,182.5" fill="none" stroke="#008000" stroke-width="6.4" stroke-linejoin="round" stroke-linecap="round" />
<polyline points="662.5,182.5 664.7,181.7 665.5,180.2 666.0,178.6 667.2,177.8 666.8,176.3 667.6,175.3 667.5,174.0 668.7,173.2 669.2,172.0 668.9,170.6 669.9,169.7 670.4,168.6 670.2,167.2 670.6,166.1 671.2,165.0 672.1,164.0 671.6,162.6 672.6,161.6 672.9,160.4 673.1,159.2 673.6,158.1 674.4,157.1 674.0,155.7 675.1,154.8 674.9,153.4 675.8,152.4 676.3,151.3 675.9,149.9 677.0,148.9 677.6,147.7 677.1,146.2 677.2,144.8 677.7,143.6 679.0,142.7 678.3,141.1 679.7,140.1 679.2,138.6 680.3,137.6 680.2,136.0 681.0,134.7 682.2,133.6 682.5,132.1 683.6,131.2 685.6,131.1 687.5,130.8 688.5,131.5 689.6,132.2 691.3,131.8 692.2,132.7 692.8,133.9 693.9,134.5 695.3,134.5 696.1,135.7 697.4,136.1 698.4,137.0 699.7,137.4 700.9,138.0 701.4,139.7 702.9,139.7 703.6,140.9 705.2,140.8 706.1,141.7 707.4,141.8 708.4,142.6 709.6,142.8 710.5,143.8 711.8,143.7 712.7,144.8 713.9,145.0 715.2,145.1 716.3,145.8 717.5,146.3 718.6,147.3 720.0,147.0 721.3,147.1 722.4,148.3 723.7,148.4 725.0,148.5 726.2,148.0 727.5,147.8 728.7,147.9 730.0,147.7 731.2,147.5 732.5,147.9 733.7,147.6 735.0,147.6 736.2,147.0 737.4,146.3 738.8,146.8 740.0,146.4 741.3,146.0 742.5,145.7 743.8,145.5 745.2,145.5 746.3,144.8 747.3,144.1 748.3,143.2 749.3,142.6 750.5,142.1 751.9,142.2 752.7,141.0 753.8,140.4 755.0,139.9 756.1,139.1 757.7,139.7 758.5,138.1 760.0,138.3 761.4,138.3 762.4,137.2 763.8,137.2 765.0,136.6 766.2,136.1 767.4,135.7 768.6,135.2 770.1,135.6 771.3,135.2 772.6,135.0 773.6,133.6 775.1,134.0 776.2,132.9 777.6,132.7 778.8,131.9 779.9,131.1 781.5,131.1 782.2,129.5 783.7,129.4 784.8,128.7 785.5,127.6 786.6,126.4 788.0,125.3 787.8,123.7 788.9,122.9 789.6,121.9 789.9,120.6 790.8,119.7 791.1,118.4 791.9,117.4 792.6,116.3 793.3,115.3 793.5,114.0 794.4,113.2 794.9,112.0 795.1,110.8 796.1,110.0 796.3,108.7 797.5,108.0 797.7,106.7 798.5,105.8 798.9,104.6 799.4,103.5 799.7,102.3 800.2,101.2 801.6,100.4 801.8,99.1 802.3,97.9 802.9,96.7 803.8,95.7 803.8,94.3 804.3,93.1 805.5,92.3 805.7,90.9 806.5,89.9 807.3,88.8 807.9,87.7 808.5,86.5 808.1,85.0 809.1,84.0 810.1,83.1 810.7,81.9 810.5,80.4 811.1,79.3 811.7,78.2 812.1,77.0 813.0,76.0 814.0,75.1 814.2,73.8" fill="none" stroke="#008000" stroke-width="6.6" stroke-linejoin="round" stroke-linecap="round" stroke-linecap="butt"/>
</g>
<g id="axes-a" stroke="#000" stroke-width="2.2" fill="none" stroke-linecap="butt">
<rect x="131.0" y="7.0" width="737.0" height="600.0"/>
<line x1="125" y1="7.2" x2="869" y2="7.2" stroke-width="3"/>
<line x1="119.0" y1="606.5" x2="131.0" y2="606.5"/>
<line x1="125.0" y1="571.3" x2="131.0" y2="571.3"/>
<line x1="119.0" y1="536.0" x2="131.0" y2="536.0"/>
<line x1="125.0" y1="500.7" x2="131.0" y2="500.7"/>
<line x1="119.0" y1="465.5" x2="131.0" y2="465.5"/>
<line x1="125.0" y1="430.2" x2="131.0" y2="430.2"/>
<line x1="119.0" y1="394.9" x2="131.0" y2="394.9"/>
<line x1="125.0" y1="359.6" x2="131.0" y2="359.6"/>
<line x1="119.0" y1="324.4" x2="131.0" y2="324.4"/>
<line x1="125.0" y1="289.1" x2="131.0" y2="289.1"/>
<line x1="119.0" y1="253.8" x2="131.0" y2="253.8"/>
<line x1="125.0" y1="218.6" x2="131.0" y2="218.6"/>
<line x1="119.0" y1="183.3" x2="131.0" y2="183.3"/>
<line x1="125.0" y1="148.0" x2="131.0" y2="148.0"/>
<line x1="119.0" y1="112.7" x2="131.0" y2="112.7"/>
<line x1="125.0" y1="77.5" x2="131.0" y2="77.5"/>
<line x1="119.0" y1="42.2" x2="131.0" y2="42.2"/>
<line x1="125.0" y1="7.0" x2="131.0" y2="7.0"/>
<line x1="131.0" y1="607.0" x2="131.0" y2="619.0"/>
<line x1="171.9" y1="607.0" x2="171.9" y2="613.0"/>
<line x1="212.9" y1="607.0" x2="212.9" y2="619.0"/>
<line x1="253.8" y1="607.0" x2="253.8" y2="613.0"/>
<line x1="294.8" y1="607.0" x2="294.8" y2="619.0"/>
<line x1="335.7" y1="607.0" x2="335.7" y2="613.0"/>
<line x1="376.7" y1="607.0" x2="376.7" y2="619.0"/>
<line x1="417.6" y1="607.0" x2="417.6" y2="613.0"/>
<line x1="458.6" y1="607.0" x2="458.6" y2="619.0"/>
<line x1="499.5" y1="607.0" x2="499.5" y2="613.0"/>
<line x1="540.4" y1="607.0" x2="540.4" y2="619.0"/>
<line x1="581.4" y1="607.0" x2="581.4" y2="613.0"/>
<line x1="622.3" y1="607.0" x2="622.3" y2="619.0"/>
<line x1="663.3" y1="607.0" x2="663.3" y2="613.0"/>
<line x1="704.2" y1="607.0" x2="704.2" y2="619.0"/>
<line x1="745.2" y1="607.0" x2="745.2" y2="613.0"/>
<line x1="786.1" y1="607.0" x2="786.1" y2="619.0"/>
<line x1="827.1" y1="607.0" x2="827.1" y2="613.0"/>
<line x1="868.0" y1="607.0" x2="868.0" y2="619.0"/>
</g>
<g id="ticklabels-a" font-size="22">
<text x="110.5" y="612.9" text-anchor="end">-10</text>
<text x="110.5" y="542.4" text-anchor="end">0</text>
<text x="110.5" y="471.9" text-anchor="end">10</text>
<text x="110.5" y="401.3" text-anchor="end">20</text>
<text x="110.5" y="330.8" text-anchor="end">30</text>
<text x="110.5" y="260.2" text-anchor="end">40</text>
<text x="110.5" y="189.7" text-anchor="end">50</text>
<text x="110.5" y="119.1" text-anchor="end">60</text>
<text x="110.5" y="48.6" text-anchor="end">70</text>
<text x="130.5" y="643" text-anchor="middle">-0.05</text>
<text x="212.4" y="643" text-anchor="middle">0.00</text>
<text x="294.3" y="643" text-anchor="middle">0.05</text>
<text x="376.2" y="643" text-anchor="middle">0.10</text>
<text x="458.1" y="643" text-anchor="middle">0.15</text>
<text x="539.9" y="643" text-anchor="middle">0.20</text>
<text x="621.8" y="643" text-anchor="middle">0.25</text>
<text x="703.7" y="643" text-anchor="middle">0.30</text>
<text x="785.6" y="643" text-anchor="middle">0.35</text>
<text x="867.5" y="643" text-anchor="middle">0.40</text>
</g>
<text x="499.5" y="688" font-size="28" text-anchor="middle">Compressive strain (mm/mm)</text>
<text transform="translate(24.5,339.5) rotate(-90)" font-size="28" text-anchor="middle">Compressive stress(MPa)</text>
<text x="758" y="55" class="b" font-size="32.5" font-weight="bold" text-anchor="middle">(a)</text>
<g id="legend-a">
<rect x="139.5" y="8" width="245.3" height="149.2" fill="#fff" stroke="#000" stroke-width="1"/>
<line x1="175" y1="34.4" x2="212" y2="34.4" stroke="#000" stroke-width="5" stroke-linecap="round"/>
<text x="216.3" y="40.1" font-size="17.4">Al6061</text>
<line x1="175" y1="56.2" x2="212" y2="56.2" stroke="#ff0000" stroke-width="5" stroke-linecap="round"/>
<text x="216.3" y="61.9" font-size="17.4">Al6061+0.5% ZrB<tspan dx="0.6" dy="6" font-size="19">2</tspan></text>
<line x1="175" y1="84.6" x2="212" y2="84.6" stroke="#0000ff" stroke-width="5" stroke-linecap="round"/>
<text x="216.3" y="90.4" font-size="17.4">Al6061+1 % ZrB<tspan dx="0.6" dy="6" font-size="19">2</tspan></text>
<line x1="175" y1="113.3" x2="212" y2="113.3" stroke="#ff00ff" stroke-width="5" stroke-linecap="round"/>
<text x="216.3" y="118.8" font-size="17.4">Al6061+1.5 % ZrB<tspan dx="0.6" dy="6" font-size="19">2</tspan></text>
<line x1="175" y1="142.2" x2="212" y2="142.2" stroke="#008000" stroke-width="5" stroke-linecap="round"/>
<text x="216.3" y="147.7" font-size="17.4">Al6061+2 % ZrB<tspan dx="0.6" dy="6" font-size="19">2</tspan></text>
</g>
<text x="962" y="66.2" class="b" font-size="32.5" font-weight="bold" text-anchor="middle">(b)</text>
<g id="axes-b" stroke="#000" stroke-width="1.8" fill="none">
<rect x="1109.6" y="40.8" width="632.0" height="514.9"/>
<line x1="1099.1" y1="555.7" x2="1109.6" y2="555.7"/>
<line x1="1104.1" y1="504.2" x2="1109.6" y2="504.2"/>
<line x1="1099.1" y1="452.7" x2="1109.6" y2="452.7"/>
<line x1="1104.1" y1="401.2" x2="1109.6" y2="401.2"/>
<line x1="1099.1" y1="349.7" x2="1109.6" y2="349.7"/>
<line x1="1104.1" y1="298.2" x2="1109.6" y2="298.2"/>
<line x1="1099.1" y1="246.8" x2="1109.6" y2="246.8"/>
<line x1="1104.1" y1="195.3" x2="1109.6" y2="195.3"/>
<line x1="1099.1" y1="143.8" x2="1109.6" y2="143.8"/>
<line x1="1104.1" y1="92.3" x2="1109.6" y2="92.3"/>
<line x1="1099.1" y1="40.8" x2="1109.6" y2="40.8"/>
<line x1="1109.6" y1="555.7" x2="1109.6" y2="561.2"/>
<line x1="1172.8" y1="555.7" x2="1172.8" y2="565.7"/>
<line x1="1236.0" y1="555.7" x2="1236.0" y2="561.2"/>
<line x1="1299.2" y1="555.7" x2="1299.2" y2="565.7"/>
<line x1="1362.4" y1="555.7" x2="1362.4" y2="561.2"/>
<line x1="1425.6" y1="555.7" x2="1425.6" y2="565.7"/>
<line x1="1488.8" y1="555.7" x2="1488.8" y2="561.2"/>
<line x1="1552.0" y1="555.7" x2="1552.0" y2="565.7"/>
<line x1="1615.2" y1="555.7" x2="1615.2" y2="561.2"/>
<line x1="1678.4" y1="555.7" x2="1678.4" y2="565.7"/>
<line x1="1741.6" y1="555.7" x2="1741.6" y2="561.2"/>
</g>
<g id="bars-b">
<line x1="1172.5" y1="432.1" x2="1172.5" y2="400.2" stroke="#ffab57" stroke-width="1.2"/>
<line x1="1167.5" y1="400.2" x2="1177.5" y2="400.2" stroke="#ff8c1a" stroke-width="1.2"/>
<rect x="1122.3" y="432.6" width="101" height="123.8" fill="#ff8000" stroke="#b35900" stroke-width="0.7"/>
<line x1="1298.9" y1="370.3" x2="1298.9" y2="337.0" stroke="#ffab57" stroke-width="1.2"/>
<line x1="1293.9" y1="337.0" x2="1303.9" y2="337.0" stroke="#ff8c1a" stroke-width="1.2"/>
<rect x="1248.7" y="370.8" width="101" height="185.6" fill="#ff8000" stroke="#b35900" stroke-width="0.7"/>
<line x1="1425.3" y1="452.7" x2="1425.3" y2="421.8" stroke="#ffab57" stroke-width="1.2"/>
<line x1="1420.3" y1="421.8" x2="1430.3" y2="421.8" stroke="#ff8c1a" stroke-width="1.2"/>
<rect x="1375.1" y="453.2" width="101" height="103.2" fill="#ff8000" stroke="#b35900" stroke-width="0.7"/>
<line x1="1551.7" y1="432.1" x2="1551.7" y2="400.2" stroke="#ffab57" stroke-width="1.2"/>
<line x1="1546.7" y1="400.2" x2="1556.7" y2="400.2" stroke="#ff8c1a" stroke-width="1.2"/>
<rect x="1501.5" y="432.6" width="101" height="123.8" fill="#ff8000" stroke="#b35900" stroke-width="0.7"/>
<line x1="1678.1" y1="143.8" x2="1678.1" y2="102.6" stroke="#ffab57" stroke-width="1.2"/>
<line x1="1673.1" y1="102.6" x2="1683.1" y2="102.6" stroke="#ff8c1a" stroke-width="1.2"/>
<rect x="1627.9" y="144.3" width="101" height="412.1" fill="#ff8000" stroke="#b35900" stroke-width="0.7"/>
</g>
<g id="ticklabels-b" font-size="19">
<text x="1092" y="560.5" text-anchor="end">45</text>
<text x="1092" y="457.5" text-anchor="end">50</text>
<text x="1092" y="354.5" text-anchor="end">55</text>
<text x="1092" y="251.6" text-anchor="end">60</text>
<text x="1092" y="148.6" text-anchor="end">65</text>
<text x="1092" y="45.6" text-anchor="end">70</text>
</g>
<text transform="translate(1055,315) rotate(-90)" font-size="23.7" text-anchor="middle">Compression Strength (MPa)</text>
<g id="catlabels-b" class="b" font-size="18.3" font-weight="bold">
<text transform="translate(1176.3,591.5) rotate(-45)" text-anchor="end">Al6061</text>
<text transform="translate(1302.7,591.5) rotate(-45)" text-anchor="end">Al6061+0.5 % ZrB2</text>
<text transform="translate(1429.1,591.5) rotate(-45)" text-anchor="end">Al6061+1 % ZrB2</text>
<text transform="translate(1555.5,591.5) rotate(-45)" text-anchor="end">Al6061+1.5 % ZrB2</text>
<text transform="translate(1681.9,591.5) rotate(-45)" text-anchor="end">Al6061+2 % ZrB2</text>
</g>
<g id="legend-b">
<rect x="1123.4" y="128.1" width="324" height="29.8" fill="#fff" stroke="#c8c8c8" stroke-width="1"/>
<path d="M1123.4 157.9 H1447.4 V128.1" fill="none" stroke="#333" stroke-width="1.2"/>
<rect x="1141.9" y="131.6" width="52.9" height="26" fill="#ff8000" stroke="#d96c00" stroke-width="0.6"/>
<text x="1201.5" y="152.8" font-size="24">Compression Strength</text>
</g>
</svg></body></html>
